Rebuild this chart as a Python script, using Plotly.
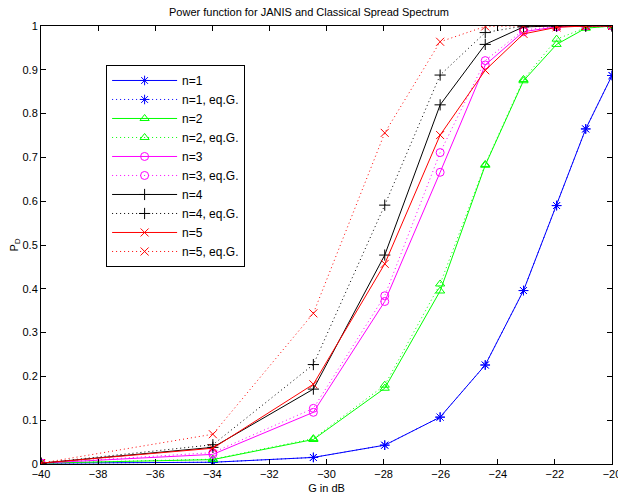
import plotly.graph_objects as go

# G in dB (x positions)
g_db = [-40.00, -33.98, -30.46, -27.96, -26.02, -24.44, -23.10, -21.94, -20.92, -20.00]

# Detection probability P_D
n1 = [0.002, 0.004, 0.015, 0.043, 0.107, 0.226, 0.396, 0.590, 0.765, 0.887]
n1_eq = [0.002, 0.004, 0.015, 0.043, 0.107, 0.226, 0.396, 0.590, 0.765, 0.887]
n2 = [0.002, 0.010, 0.056, 0.173, 0.395, 0.682, 0.875, 0.958, 0.995, 1.000]
n2_eq = [0.002, 0.011, 0.058, 0.180, 0.411, 0.684, 0.878, 0.970, 0.996, 1.000]
n3 = [0.002, 0.022, 0.118, 0.371, 0.666, 0.911, 0.987, 0.998, 1.000, 1.000]
n3_eq = [0.002, 0.026, 0.127, 0.384, 0.711, 0.921, 0.991, 0.999, 1.000, 1.000]
n4 = [0.002, 0.038, 0.171, 0.477, 0.820, 0.958, 0.998, 1.000, 1.000, 1.000]
n4_eq = [0.002, 0.044, 0.227, 0.591, 0.888, 0.985, 1.000, 1.000, 1.000, 1.000]
n5 = [0.002, 0.036, 0.182, 0.457, 0.751, 0.899, 0.982, 0.997, 1.000, 1.000]
n5_eq = [0.002, 0.068, 0.344, 0.756, 0.964, 0.999, 1.000, 1.000, 1.000, 1.000]

series = [
    ("n=1", n1, "#0000ff", "asterisk-open", "solid"),
    ("n=1, eq.G.", n1_eq, "#0000ff", "asterisk-open", "dot"),
    ("n=2", n2, "#00ff00", "triangle-up-open", "solid"),
    ("n=2, eq.G.", n2_eq, "#00ff00", "triangle-up-open", "dot"),
    ("n=3", n3, "#ff00ff", "circle-open", "solid"),
    ("n=3, eq.G.", n3_eq, "#ff00ff", "circle-open", "dot"),
    ("n=4", n4, "#000000", "cross-thin-open", "solid"),
    ("n=4, eq.G.", n4_eq, "#000000", "cross-thin-open", "dot"),
    ("n=5", n5, "#ff0000", "x-thin-open", "solid"),
    ("n=5, eq.G.", n5_eq, "#ff0000", "x-thin-open", "dot"),
]

fig = go.Figure()
for name, ys, color, sym, dash in series:
    fig.add_trace(go.Scatter(
        x=g_db, y=ys, name=name, mode="lines+markers",
        line=dict(color=color, width=1, dash=("1px,3px" if dash == "dot" else "solid")),
        marker=dict(symbol=sym, size=8, color=color, line=dict(color=color, width=1)),
    ))

font = "Liberation Sans, Arial, sans-serif"
axis_common = dict(
    showgrid=False, zeroline=False, showline=True, linecolor="black", linewidth=1,
    mirror="ticks", ticks="inside", ticklen=5, tickcolor="black",
    tickfont=dict(family=font, size=11, color="black"),
    ticklabeloverflow="allow", automargin=False,
)

fig.update_layout(
    template="none",
    width=618, height=499,
    margin=dict(l=41, r=6, t=26, b=35),
    paper_bgcolor="white", plot_bgcolor="white",
    title=dict(text="Power function for JANIS and Classical Spread Spectrum",
               x=0.5, xanchor="center", y=0.976, yanchor="middle",
               font=dict(family=font, size=11, color="black")),
    xaxis=dict(range=[-40, -20], dtick=2, tick0=-40,
               title=dict(text="G in dB", standoff=5, font=dict(family=font, size=11, color="black")),
               **axis_common),
    yaxis=dict(range=[0, 1], dtick=0.1, tick0=0, tickformat="~g",
               title=dict(text="P<sub>D</sub>", standoff=0, font=dict(family=font, size=11, color="black")),
               **axis_common),
    legend=dict(x=0.114, y=0.911, xanchor="left", yanchor="top",
                bgcolor="white", bordercolor="black", borderwidth=1,
                font=dict(family=font, size=12, color="black"),
                tracegroupgap=0, itemwidth=65),
    showlegend=True,
)

fig.write_html("out.html", config={"displayModeBar": False},
               post_script="document.body.style.margin='0';document.body.style.overflow='hidden';")
